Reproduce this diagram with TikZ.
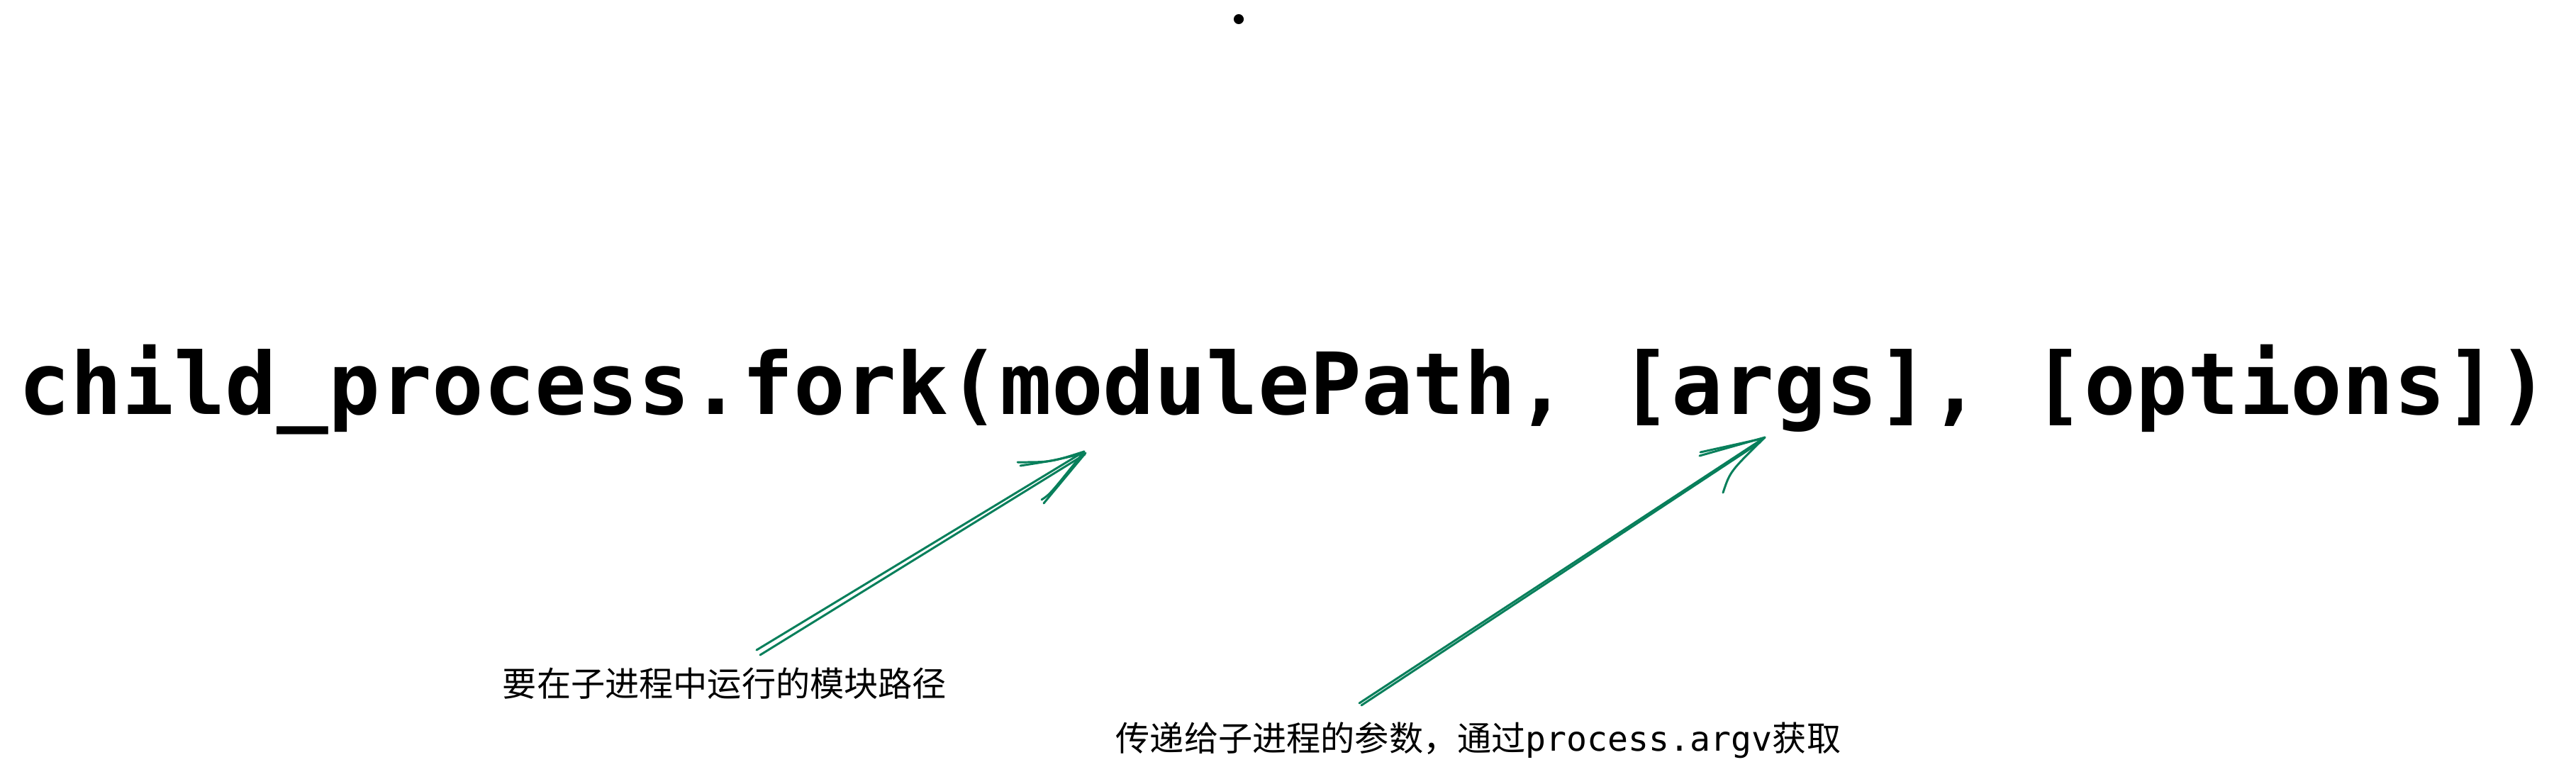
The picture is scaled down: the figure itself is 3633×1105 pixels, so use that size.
\documentclass[tikz,border=0pt]{standalone}
\usepackage{fontspec}
\setmainfont{Noto Sans CJK SC}
\setmonofont{DejaVu Sans Mono}

\definecolor{arrowgreen}{HTML}{087F5B}

\tikzset{
  sketch/.style={draw=arrowgreen, line width=0.85pt, line cap=round, line join=round},
  callname/.style={font=\ttfamily\bfseries\fontsize{34.4pt}{40pt}\selectfont, inner sep=0pt},
  note/.style={font=\fontsize{13.7pt}{16pt}\selectfont, inner sep=0pt}
}

\begin{document}
\begin{tikzpicture}[x=0.01cm,y=-0.01cm]

  % Page size of the reference, one unit is one pixel
  \useasboundingbox (0,0) rectangle (3633,1105);

  % The little dot at the top
  \coordinate (dot) at (1747,27);
  \fill (dot) circle (2pt);

  % The call itself
  \node[callname, anchor=base] (call) at (1811,584)
    {child\_process.fork(modulePath, [args], [options])};

  % The two notes under it
  \node[note, anchor=base] (pathnote) at (1022,982) {要在子进程中运行的模块路径};
  \node[note, anchor=base] (argsnote) at (2085,1059)
    {传递给子进程的参数，通过\texttt{process.argv}获取};

  % Feet and tips of the arrows
  \coordinate (pathfoot) at (1067,917);
  \coordinate (pathtip) at (1529,637);
  \coordinate (argsfoot) at (1917,992);
  \coordinate (argstip) at (2489,617);

  % Arrow to modulePath (every stroke twice, hand drawn look)
  \draw[sketch] (pathfoot) -- (pathtip);
  \draw[sketch] ([shift={(5,7)}]pathfoot) -- ([shift={(1,4)}]pathtip);
  % upper wing
  \draw[sketch] ([shift={(-94,15)}]pathtip) .. controls ([shift={(-47,15)}]pathtip) .. (pathtip);
  \draw[sketch] ([shift={(-90,20)}]pathtip) .. controls ([shift={(-45,13)}]pathtip) .. ([shift={(-2,3)}]pathtip);
  % lower wing
  \draw[sketch] ([shift={(-60,68)}]pathtip) .. controls ([shift={(-48,60)}]pathtip) .. (pathtip);
  \draw[sketch] ([shift={(-57,73)}]pathtip) -- ([shift={(2,2)}]pathtip);

  % Arrow to [args]
  \draw[sketch] (argsfoot) -- (argstip);
  \draw[sketch] ([shift={(3,3)}]argsfoot) -- ([shift={(-7,7)}]argstip);
  % upper wing
  \draw[sketch] ([shift={(-92,26)}]argstip) -- (argstip);
  \draw[sketch] ([shift={(-91,21)}]argstip) -- ([shift={(-5,2)}]argstip);
  % lower wing
  \draw[sketch] ([shift={(-59,78)}]argstip) .. controls ([shift={(-49,48)}]argstip) .. (argstip);

\end{tikzpicture}
\end{document}
